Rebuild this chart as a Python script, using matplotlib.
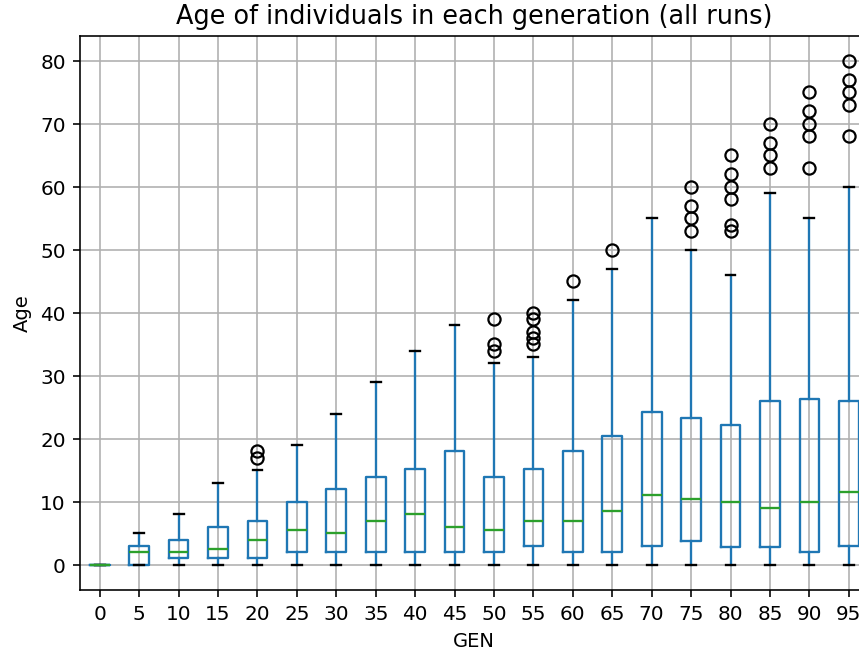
import matplotlib
matplotlib.use("Agg")
import matplotlib.pyplot as plt

# summary stats, one entry per generation
gens = [0, 5, 10, 15, 20, 25, 30, 35, 40, 45, 50, 55, 60, 65, 70, 75, 80, 85, 90, 95]
q1 = [0, 0, 1, 1, 1, 2, 2, 2, 2, 2, 2, 3, 2, 2, 3, 3.8, 2.8, 2.8, 2, 3]
med = [0, 2, 2, 2.5, 4, 5.5, 5, 7, 8, 6, 5.5, 7, 7, 8.5, 11, 10.5, 10, 9, 10, 11.5]
q3 = [0, 3, 4, 6, 7, 10, 12, 14, 15.2, 18, 14, 15.2, 18, 20.5, 24.2, 23.3, 22.2, 26, 26.3, 26]
whislo = [0] * 20
whishi = [0, 5, 8, 13, 15, 19, 24, 29, 34, 38, 32, 33, 42, 47, 55, 50, 46, 59, 55, 60]
fliers = [
    [], [], [], [], [17, 18], [], [], [], [], [],
    [34, 35, 39], [35, 36, 37, 39, 40], [45], [50], [],
    [53, 55, 57, 60], [53, 54, 58, 60, 62, 65], [63, 65, 67, 70],
    [63, 68, 70, 72, 75], [68, 73, 75, 77, 80],
]

DPI = 146
fig = plt.figure(figsize=(859.5 / DPI, 655.5 / DPI), dpi=DPI)
# right edge of the axes sits past the figure, the reference is cropped there
ax = fig.add_axes([80 / 859, 1 - 590 / 655, 788 / 859, 554 / 655])

stats = []
for i in range(len(gens)):
    stats.append({
        "med": med[i], "q1": q1[i], "q3": q3[i],
        "whislo": whislo[i], "whishi": whishi[i],
        "fliers": fliers[i], "label": str(gens[i]),
    })

lw = 1.15
ax.bxp(
    stats,
    widths=0.5,
    boxprops=dict(color="#1f77b4", linewidth=lw),
    whiskerprops=dict(color="#1f77b4", linewidth=lw),
    capprops=dict(color="black", linewidth=lw),
    medianprops=dict(color="#2ca02c", linewidth=lw),
    flierprops=dict(marker="o", markerfacecolor="none", markeredgecolor="black",
                    markeredgewidth=1.1),
)

ax.grid(True)
ax.tick_params(labelsize=9.9)
ax.set_title("Age of individuals in each generation (all runs)", fontsize=12.6)
ax.set_xlabel("GEN", fontsize=9.6)
ax.set_ylabel("Age", fontsize=9.6)
ax.set_ylim(-4, 84)

fig.savefig("out.png", dpi=DPI)
